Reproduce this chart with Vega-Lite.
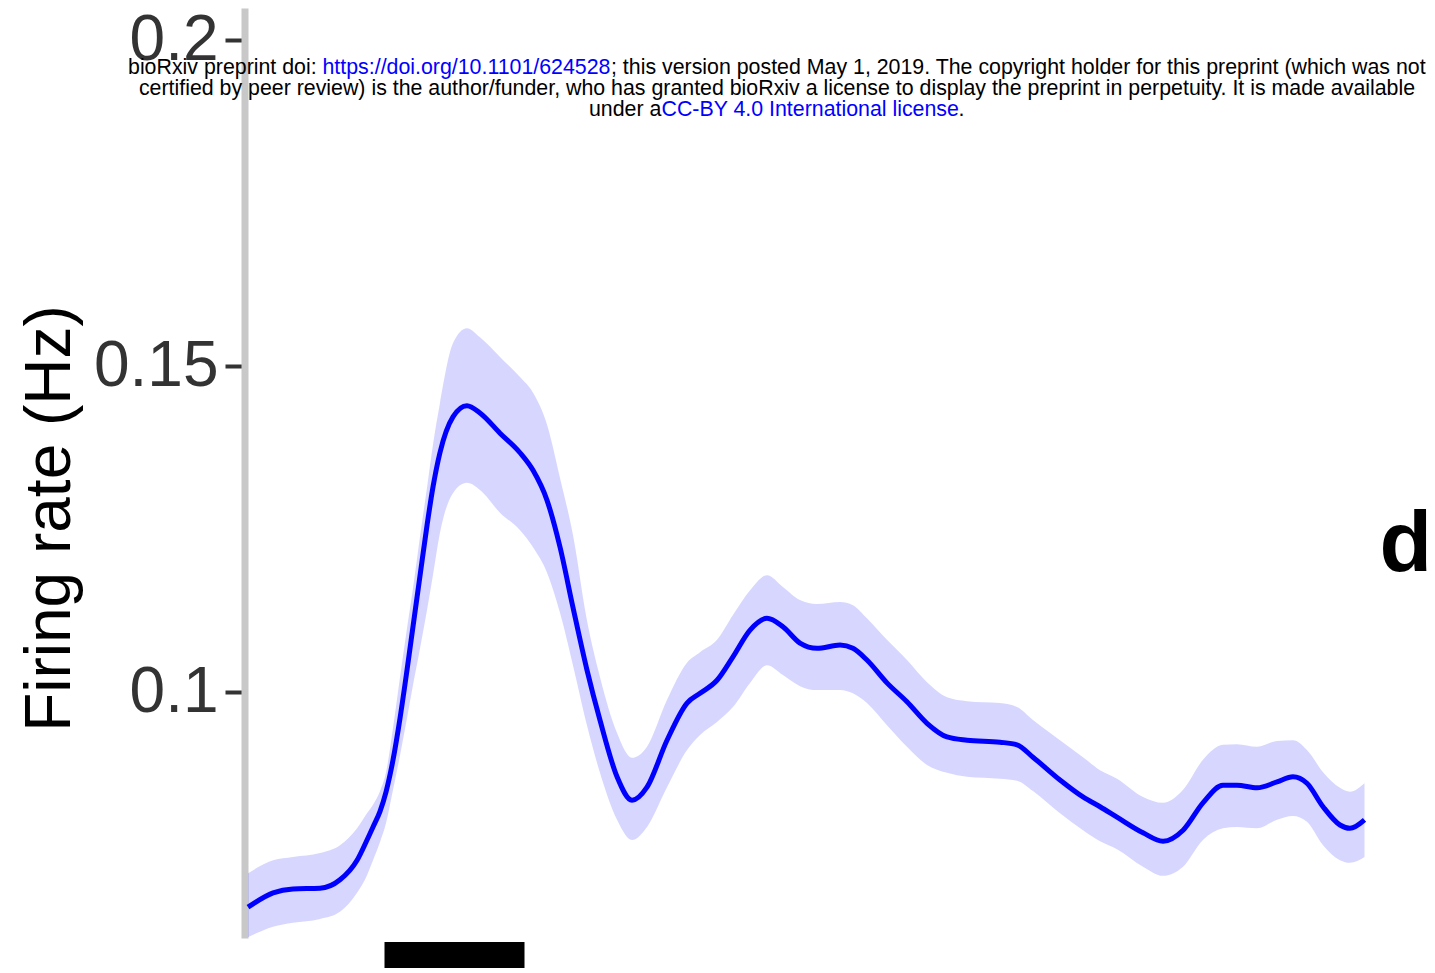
{
  "$schema": "https://vega.github.io/schema/vega-lite/v6.json",
  "width": 1120,
  "height": 930,
  "autosize": {"type": "none"},
  "padding": {"left": 244.5, "top": 8, "right": 70.5, "bottom": 35},
  "background": "white",
  "config": {
    "view": {"stroke": null},
    "axisY": {
      "grid": false,
      "domainColor": "#c8c8c8",
      "domainWidth": 7,
      "tickColor": "#333333",
      "tickSize": 19.5,
      "tickWidth": 4,
      "labelFont": "Liberation Sans",
      "labelFontSize": 64,
      "labelColor": "#333333",
      "labelPadding": 7,
      "titleFont": "Liberation Sans",
      "titleFontSize": 64,
      "titleFontWeight": "normal",
      "titleColor": "#000000",
      "titleAngle": 270,
      "titleAlign": "center",
      "titleBaseline": "alphabetic",
      "titleX": -175.5,
      "titleY": 510
    },
    "text": {"font": "Liberation Sans", "fontSize": 21.35, "baseline": "alphabetic", "align": "left"}
  },
  "data": {
    "values": [
      {"t": -0.975, "m": 0.0670, "hi": 0.0722, "lo": 0.0624},
      {"t": -0.796, "m": 0.0692, "hi": 0.0742, "lo": 0.0640},
      {"t": -0.654, "m": 0.0698, "hi": 0.0747, "lo": 0.0646},
      {"t": -0.461, "m": 0.0699, "hi": 0.0753, "lo": 0.0652},
      {"t": -0.318, "m": 0.0712, "hi": 0.0765, "lo": 0.0663},
      {"t": -0.196, "m": 0.0742, "hi": 0.0791, "lo": 0.0692},
      {"t": -0.125, "m": 0.0773, "hi": 0.0814, "lo": 0.0719},
      {"t": -0.082, "m": 0.0793, "hi": 0.0827, "lo": 0.0742},
      {"t": -0.032, "m": 0.0817, "hi": 0.0848, "lo": 0.0770},
      {"t": 0.011, "m": 0.0847, "hi": 0.0877, "lo": 0.0799},
      {"t": 0.061, "m": 0.0896, "hi": 0.0945, "lo": 0.0850},
      {"t": 0.111, "m": 0.0960, "hi": 0.1023, "lo": 0.0903},
      {"t": 0.161, "m": 0.1034, "hi": 0.1098, "lo": 0.0960},
      {"t": 0.204, "m": 0.1101, "hi": 0.1160, "lo": 0.1011},
      {"t": 0.254, "m": 0.1179, "hi": 0.1239, "lo": 0.1067},
      {"t": 0.304, "m": 0.1256, "hi": 0.1314, "lo": 0.1126},
      {"t": 0.346, "m": 0.1314, "hi": 0.1379, "lo": 0.1179},
      {"t": 0.396, "m": 0.1367, "hi": 0.1443, "lo": 0.1244},
      {"t": 0.489, "m": 0.1422, "hi": 0.1535, "lo": 0.1305},
      {"t": 0.589, "m": 0.1439, "hi": 0.1558, "lo": 0.1321},
      {"t": 0.682, "m": 0.1428, "hi": 0.1544, "lo": 0.1310},
      {"t": 0.825, "m": 0.1397, "hi": 0.1514, "lo": 0.1275},
      {"t": 0.968, "m": 0.1367, "hi": 0.1483, "lo": 0.1248},
      {"t": 1.061, "m": 0.1340, "hi": 0.1459, "lo": 0.1222},
      {"t": 1.161, "m": 0.1294, "hi": 0.1410, "lo": 0.1183},
      {"t": 1.254, "m": 0.1222, "hi": 0.1328, "lo": 0.1121},
      {"t": 1.346, "m": 0.1130, "hi": 0.1241, "lo": 0.1041},
      {"t": 1.446, "m": 0.1034, "hi": 0.1110, "lo": 0.0949},
      {"t": 1.539, "m": 0.0957, "hi": 0.1023, "lo": 0.0876},
      {"t": 1.661, "m": 0.0870, "hi": 0.0937, "lo": 0.0804},
      {"t": 1.768, "m": 0.0834, "hi": 0.0899, "lo": 0.0773},
      {"t": 1.875, "m": 0.0854, "hi": 0.0916, "lo": 0.0793},
      {"t": 2.018, "m": 0.0926, "hi": 0.0988, "lo": 0.0854},
      {"t": 2.161, "m": 0.0983, "hi": 0.1045, "lo": 0.0911},
      {"t": 2.254, "m": 0.0998, "hi": 0.1061, "lo": 0.0934},
      {"t": 2.375, "m": 0.1018, "hi": 0.1080, "lo": 0.0954},
      {"t": 2.489, "m": 0.1054, "hi": 0.1118, "lo": 0.0977},
      {"t": 2.611, "m": 0.1095, "hi": 0.1156, "lo": 0.1014},
      {"t": 2.732, "m": 0.1113, "hi": 0.1179, "lo": 0.1041},
      {"t": 2.846, "m": 0.1100, "hi": 0.1161, "lo": 0.1026},
      {"t": 2.968, "m": 0.1075, "hi": 0.1141, "lo": 0.1009},
      {"t": 3.089, "m": 0.1067, "hi": 0.1135, "lo": 0.1003},
      {"t": 3.254, "m": 0.1072, "hi": 0.1138, "lo": 0.1003},
      {"t": 3.346, "m": 0.1067, "hi": 0.1133, "lo": 0.0998},
      {"t": 3.446, "m": 0.1049, "hi": 0.1113, "lo": 0.0983},
      {"t": 3.589, "m": 0.1014, "hi": 0.1080, "lo": 0.0949},
      {"t": 3.732, "m": 0.0985, "hi": 0.1049, "lo": 0.0916},
      {"t": 3.875, "m": 0.0952, "hi": 0.1015, "lo": 0.0888},
      {"t": 4.018, "m": 0.0931, "hi": 0.0992, "lo": 0.0876},
      {"t": 4.161, "m": 0.0926, "hi": 0.0986, "lo": 0.0870},
      {"t": 4.396, "m": 0.0923, "hi": 0.0983, "lo": 0.0867},
      {"t": 4.518, "m": 0.0919, "hi": 0.0977, "lo": 0.0864},
      {"t": 4.632, "m": 0.0900, "hi": 0.0957, "lo": 0.0848},
      {"t": 4.825, "m": 0.0865, "hi": 0.0926, "lo": 0.0814},
      {"t": 4.989, "m": 0.0839, "hi": 0.0900, "lo": 0.0788},
      {"t": 5.111, "m": 0.0824, "hi": 0.0880, "lo": 0.0771},
      {"t": 5.232, "m": 0.0808, "hi": 0.0867, "lo": 0.0759},
      {"t": 5.418, "m": 0.0784, "hi": 0.0839, "lo": 0.0732},
      {"t": 5.561, "m": 0.0771, "hi": 0.0830, "lo": 0.0718},
      {"t": 5.704, "m": 0.0788, "hi": 0.0850, "lo": 0.0732},
      {"t": 5.846, "m": 0.0830, "hi": 0.0896, "lo": 0.0773},
      {"t": 5.989, "m": 0.0857, "hi": 0.0919, "lo": 0.0791},
      {"t": 6.089, "m": 0.0857, "hi": 0.0920, "lo": 0.0793},
      {"t": 6.232, "m": 0.0853, "hi": 0.0916, "lo": 0.0791},
      {"t": 6.375, "m": 0.0862, "hi": 0.0925, "lo": 0.0804},
      {"t": 6.489, "m": 0.0870, "hi": 0.0926, "lo": 0.0810},
      {"t": 6.589, "m": 0.0860, "hi": 0.0911, "lo": 0.0801},
      {"t": 6.704, "m": 0.0824, "hi": 0.0877, "lo": 0.0765},
      {"t": 6.825, "m": 0.0796, "hi": 0.0853, "lo": 0.0742},
      {"t": 6.896, "m": 0.0791, "hi": 0.0847, "lo": 0.0738},
      {"t": 7.0, "m": 0.0804, "hi": 0.0860, "lo": 0.0747}
    ]
  },
  "layer": [
    {
      "mark": {"type": "area", "interpolate": "monotone", "color": "#0000ff", "opacity": 0.16},
      "encoding": {
        "x": {"field": "t", "type": "quantitative", "scale": {"domain": [-1, 7], "nice": false, "zero": false}, "axis": null},
        "y": {"field": "hi", "type": "quantitative", "scale": {"domain": [0.06227, 0.20491], "nice": false, "zero": false}, "title": "Firing rate (Hz)", "axis": {"values": [0.1, 0.15, 0.2], "format": "~g"}},
        "y2": {"field": "lo"}
      }
    },
    {
      "mark": {"type": "line", "interpolate": "monotone", "color": "#0000ff", "strokeWidth": 5},
      "encoding": {
        "x": {"field": "t", "type": "quantitative"},
        "y": {"field": "m", "type": "quantitative", "title": "Firing rate (Hz)"}
      }
    },
    {
      "data": {"values": [{"start": 0, "end": 1, "lo": 0.05767, "hi": 0.06166}]},
      "mark": {"type": "rect", "color": "#000000", "clip": false},
      "encoding": {
        "x": {"field": "start", "type": "quantitative"},
        "x2": {"field": "end"},
        "y": {"field": "hi", "type": "quantitative", "title": "Firing rate (Hz)"},
        "y2": {"field": "lo"}
      }
    },
    {
      "data": {"values": [{}]},
      "mark": {"type": "text", "text": "bioRxiv preprint doi: ", "color": "#000000"},
      "encoding": {"x": {"datum": -1.8321, "type": "quantitative"}, "y": {"datum": 0.19479, "type": "quantitative"}}
    },
    {
      "data": {"values": [{}]},
      "mark": {"type": "text", "text": "https://doi.org/10.1101/624528", "color": "#0000ff"},
      "encoding": {"x": {"datum": -0.4429, "type": "quantitative"}, "y": {"datum": 0.19479, "type": "quantitative"}}
    },
    {
      "data": {"values": [{}]},
      "mark": {"type": "text", "text": "; this version posted May 1, 2019. The copyright holder for this preprint (which was not", "color": "#000000"},
      "encoding": {"x": {"datum": 1.6179, "type": "quantitative"}, "y": {"datum": 0.19479, "type": "quantitative"}}
    },
    {
      "data": {"values": [{}]},
      "mark": {"type": "text", "text": "certified by peer review) is the author/funder, who has granted bioRxiv a license to display the preprint in perpetuity. It is made available", "color": "#000000", "align": "center"},
      "encoding": {"x": {"datum": 2.8036, "type": "quantitative"}, "y": {"datum": 0.19156, "type": "quantitative"}}
    },
    {
      "data": {"values": [{}]},
      "mark": {"type": "text", "text": "under a", "color": "#000000"},
      "encoding": {"x": {"datum": 1.4607, "type": "quantitative"}, "y": {"datum": 0.18842, "type": "quantitative"}}
    },
    {
      "data": {"values": [{}]},
      "mark": {"type": "text", "text": "CC-BY 4.0 International license", "color": "#0000ff"},
      "encoding": {"x": {"datum": 1.9786, "type": "quantitative"}, "y": {"datum": 0.18842, "type": "quantitative"}}
    },
    {
      "data": {"values": [{}]},
      "mark": {"type": "text", "text": ".", "color": "#000000"},
      "encoding": {"x": {"datum": 4.1, "type": "quantitative"}, "y": {"datum": 0.18842, "type": "quantitative"}}
    },
    {
      "data": {"values": [{}]},
      "mark": {"type": "text", "text": "d", "color": "#000000", "fontSize": 86, "fontWeight": "bold"},
      "encoding": {"x": {"datum": 7.108, "type": "quantitative"}, "y": {"datum": 0.11863, "type": "quantitative"}}
    }
  ]
}
